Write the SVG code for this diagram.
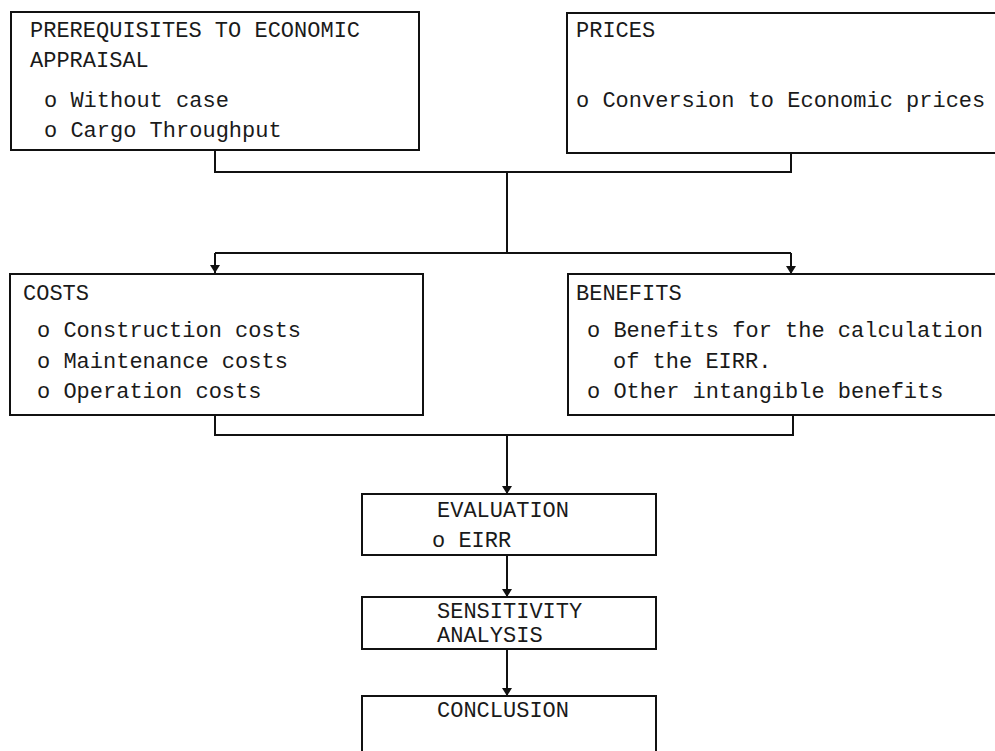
<svg xmlns="http://www.w3.org/2000/svg" width="995" height="751" viewBox="0 0 995 751">
<style>
.box{fill:none;stroke:#111;stroke-width:2}
.ln{fill:none;stroke:#111;stroke-width:2}
.t{font-family:"Liberation Mono","DejaVu Sans Mono",monospace;font-size:22px;fill:#1a1a1a}
</style>
<defs>
<marker id="ah" viewBox="0 0 8 10" refX="8" refY="5" markerWidth="8" markerHeight="10" markerUnits="userSpaceOnUse" orient="auto">
<path d="M0,0 L8,5 L0,10 z" fill="#111"/>
</marker>
</defs>
<rect width="995" height="751" fill="#fff"/>
<g id="connectors">
<polyline class="ln" points="215,150 215,172 791,172 791,153"/>
<line class="ln" x1="507" y1="172" x2="507" y2="253"/>
<line class="ln" x1="215" y1="253" x2="791" y2="253"/>
<line class="ln" x1="215" y1="253" x2="215" y2="273" marker-end="url(#ah)"/>
<line class="ln" x1="791" y1="253" x2="791" y2="274" marker-end="url(#ah)"/>
<polyline class="ln" points="215,415 215,435 793,435 793,415"/>
<line class="ln" x1="507" y1="435" x2="507" y2="494" marker-end="url(#ah)"/>
<line class="ln" x1="507" y1="555" x2="507" y2="597" marker-end="url(#ah)"/>
<line class="ln" x1="507" y1="649" x2="507" y2="696" marker-end="url(#ah)"/>
</g>
<g id="prerequisites">
<rect class="box" x="11" y="12" width="408" height="138"/>
<text class="t" x="30" y="37">PREREQUISITES TO ECONOMIC</text>
<text class="t" x="30" y="67">APPRAISAL</text>
<text class="t" x="44" y="107">o Without case</text>
<text class="t" x="44" y="137">o Cargo Throughput</text>
</g>
<g id="prices">
<rect class="box" x="567" y="13" width="440" height="140"/>
<text class="t" x="576" y="37">PRICES</text>
<text class="t" x="576" y="107">o Conversion to Economic prices</text>
</g>
<g id="costs">
<rect class="box" x="10" y="274" width="413" height="141"/>
<text class="t" x="23" y="300">COSTS</text>
<text class="t" x="37" y="337">o Construction costs</text>
<text class="t" x="37" y="368">o Maintenance costs</text>
<text class="t" x="37" y="398">o Operation costs</text>
</g>
<g id="benefits">
<rect class="box" x="568" y="274" width="440" height="141"/>
<text class="t" x="576" y="300">BENEFITS</text>
<text class="t" x="587" y="337">o Benefits for the calculation</text>
<text class="t" x="613" y="368">of the EIRR.</text>
<text class="t" x="587" y="398">o Other intangible benefits</text>
</g>
<g id="evaluation">
<rect class="box" x="362" y="494" width="294" height="61"/>
<text class="t" x="437" y="517">EVALUATION</text>
<text class="t" x="432" y="547">o EIRR</text>
</g>
<g id="sensitivity">
<rect class="box" x="362" y="597" width="294" height="52"/>
<text class="t" x="437" y="618">SENSITIVITY</text>
<text class="t" x="437" y="642">ANALYSIS</text>
</g>
<g id="conclusion">
<rect class="box" x="362" y="696" width="294" height="80"/>
<text class="t" x="437" y="717">CONCLUSION</text>
</g>
</svg>
